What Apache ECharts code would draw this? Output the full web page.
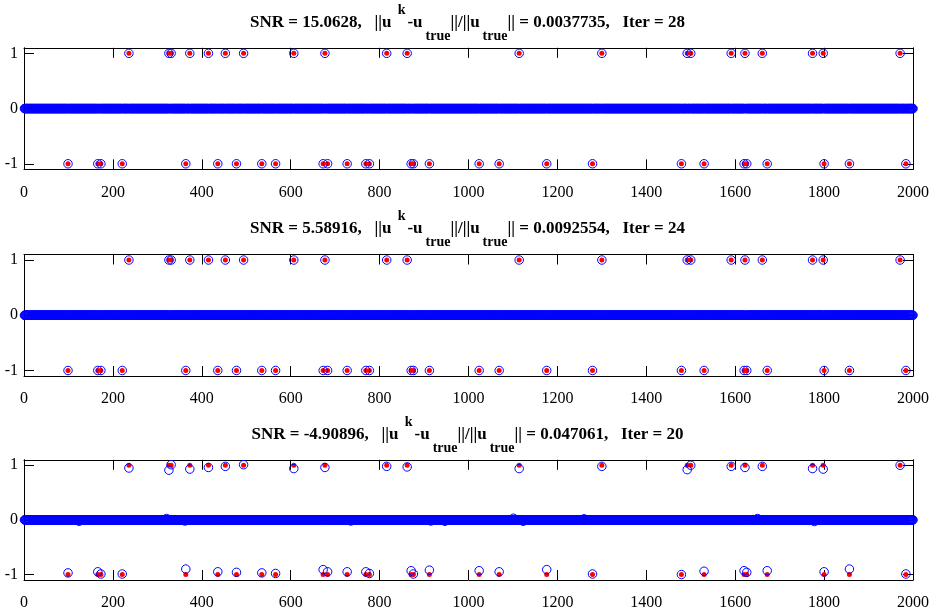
<!DOCTYPE html>
<html>
<head>
<meta charset="utf-8">
<script src="https://cdn.jsdelivr.net/npm/echarts@6/dist/echarts.min.js"></script>
<style>
  html, body { margin: 0; padding: 0; background: #fff; }
  #main { width: 935px; height: 611px; }
</style>
</head>
<body>
<div id="main"></div>
<script>
var N = 2000
// support of u_true (indices with value +1 / -1)
var posIdx = [236, 326, 331, 373, 415, 453, 494, 607, 677, 816, 862, 1114, 1300, 1492, 1500, 1591, 1622, 1661, 1774, 1798, 1971]
var negIdx = [99, 166, 173, 221, 364, 436, 478, 535, 566, 673, 683, 727, 769, 777, 871, 876, 912, 1024, 1069, 1176, 1279, 1479, 1530, 1620, 1626, 1672, 1800, 1857, 1984]

// recovered values for the noisiest case (SNR = -4.9)
var pos3 = [0.95, 0.91, 1.01, 0.93, 0.96, 0.98, 1.01, 0.94, 0.96, 0.98, 0.97, 0.94, 0.98, 0.92, 1.0, 0.98, 0.96, 0.98, 0.94, 0.93, 1.0]
var neg3 = [-0.97, -0.95, -0.99, -0.99, -0.90, -0.95, -0.96, -0.97, -0.98, -0.91, -0.95, -0.95, -0.95, -0.98, -0.93, -0.99, -0.92, -0.93, -0.95, -0.91, -0.99, -1.0, -0.94, -0.93, -0.96, -0.93, -0.95, -0.90, -0.99]
var noise3 = [[124, -0.025], [321, 0.025], [362, -0.02], [735, -0.02], [915, -0.02], [947, -0.025], [1101, 0.03], [1123, -0.025], [1260, 0.02], [1650, 0.025], [1778, -0.03]]

var snr = ['15.0628', '5.58916', '-4.90896']
var relErr = ['0.0037735', '0.0092554', '0.047061']
var iters = [28, 24, 20]

var xTicks = [0, 200, 400, 600, 800, 1000, 1200, 1400, 1600, 1800, 2000]
var yTicks = [-1, 0, 1]

var font = 'Liberation Serif'

function trueSignal() {
  var u = []
  for (var i = 0; i < posIdx.length; i++) u.push([posIdx[i], 1])
  for (var j = 0; j < negIdx.length; j++) u.push([negIdx[j], -1])
  return u
}

function recovered(posVals, negVals, noise) {
  var v = {}
  posIdx.forEach(function (k, i) { v[k] = posVals ? posVals[i] : 1 })
  negIdx.forEach(function (k, i) { v[k] = negVals ? negVals[i] : -1 })
  ;(noise || []).forEach(function (p) { v[p[0]] = p[1] })
  var out = []
  for (var i = 1; i <= N; i++) out.push([i, v[i] !== undefined ? v[i] : 0])
  return out
}

var recData = [recovered(), recovered(), recovered(pos3, neg3, noise3)]

var gridTops = [47.8, 254.5, 459.8]
var gridH = 121.5
var titleTops = [3, 209, 415]

var option = {
  animation: false,
  title: [],
  grid: [],
  xAxis: [],
  yAxis: [],
  series: []
}

for (var g = 0; g < 3; g++) {
  option.title.push({
    left: 'center',
    top: titleTops[g],
    padding: 0,
    text: '{b|SNR = ' + snr[g] + ',   ||u }{sup|k}{b|-u}{sub|true}{b|||/||u}{sub|true}{b||| = ' + relErr[g] + ',   Iter = ' + iters[g] + '}',
    textStyle: {
      rich: {
        b: { fontFamily: font, fontWeight: 'bold', fontSize: 17, lineHeight: 40, verticalAlign: 'middle', color: '#000' },
        sup: { fontFamily: font, fontWeight: 'bold', fontSize: 14, lineHeight: 14, verticalAlign: 'top', color: '#000', padding: [0, 2, 0, 2] },
        sub: { fontFamily: font, fontWeight: 'bold', fontSize: 14, lineHeight: 14, verticalAlign: 'bottom', color: '#000', padding: [0, 0, 0, 3] }
      }
    }
  })
  option.grid.push({ left: 24, right: 22, top: gridTops[g], height: gridH })

  var axLine = { show: true, onZero: false, lineStyle: { color: '#000', width: 1 } }
  option.xAxis.push({
    type: 'value', gridIndex: g, position: 'bottom', min: 0, max: 2000, interval: 200,
    axisLine: axLine,
    axisTick: { show: true, inside: true, length: 10, lineStyle: { color: '#000' } },
    axisLabel: {
      color: '#000', fontFamily: font, fontSize: 16, margin: 15, customValues: xTicks,
      formatter: function (v) { return String(v) }
    },
    splitLine: { show: false }
  })
  option.xAxis.push({
    type: 'value', gridIndex: g, position: 'top', min: 0, max: 2000, interval: 200,
    axisLine: axLine,
    axisTick: { show: true, inside: true, length: 10, lineStyle: { color: '#000' } },
    axisLabel: { show: false },
    splitLine: { show: false }
  })
  option.yAxis.push({
    type: 'value', gridIndex: g, position: 'left', min: -1.1, max: 1.1,
    axisLine: axLine,
    axisTick: { show: true, inside: true, length: 10, customValues: yTicks, lineStyle: { color: '#000' } },
    axisLabel: { color: '#000', fontFamily: font, fontSize: 16, margin: 6, customValues: yTicks },
    splitLine: { show: false }
  })
  option.yAxis.push({
    type: 'value', gridIndex: g, position: 'right', min: -1.1, max: 1.1,
    axisLine: axLine,
    axisTick: { show: true, inside: true, length: 10, customValues: yTicks, lineStyle: { color: '#000' } },
    axisLabel: { show: false },
    splitLine: { show: false }
  })

  option.series.push({
    type: 'scatter', xAxisIndex: 2 * g, yAxisIndex: 2 * g,
    data: trueSignal(), symbol: 'circle', symbolSize: 5,
    itemStyle: { color: '#ff0000', opacity: 1 },
    z: 2, silent: true, clip: false, progressive: 0
  })
  option.series.push({
    type: 'scatter', xAxisIndex: 2 * g, yAxisIndex: 2 * g,
    data: recData[g], symbol: 'circle', symbolSize: 8.5,
    itemStyle: { color: 'rgba(0,0,0,0)', borderColor: '#0000ff', borderWidth: 1, opacity: 1 },
    z: 3, silent: true, clip: false, progressive: 0, large: false
  })
}

var chart = echarts.init(document.getElementById('main'), null, { renderer: 'canvas' })
chart.setOption(option)
</script>
</body>
</html>
